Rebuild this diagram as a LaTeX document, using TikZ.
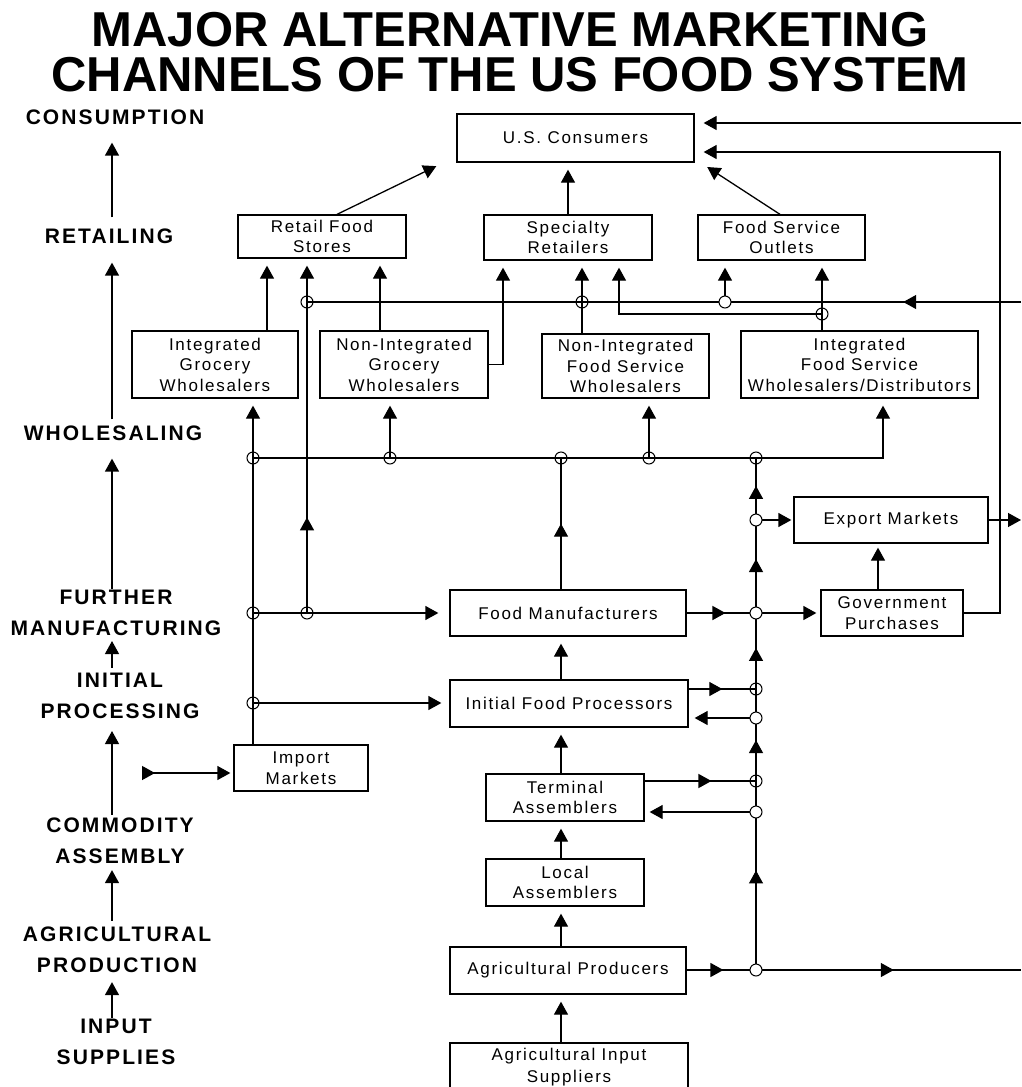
\documentclass[tikz,border=0pt]{standalone}
\usepackage{fontspec}
\setmainfont{Liberation Sans}
\newfontfamily\boxfont[LetterSpace=10]{Liberation Sans}
\usetikzlibrary{positioning,arrows.meta,decorations.markings,calc}

\begin{document}
\begin{tikzpicture}[x=1pt, y=-1pt,
    box/.style={draw, line width=1.3pt, inner sep=0pt, align=center,
                font=\boxfont\fontsize{17}{20.5}\selectfont},
    stage/.style={inner sep=0pt, align=center,
                  font=\boxfont\bfseries\fontsize{21}{31}\selectfont},
    line/.style={line width=1.3pt},
    arr/.style={line, -{Triangle[length=13pt,width=14pt]}, shorten >=7pt},
    midarr/.style={postaction={decorate}, decoration={markings,
                   mark=at position #1 with {\arrow{Triangle[length=13pt,width=14pt]}}}},
    junc/.style={circle, draw, line width=1pt, fill=white, minimum size=12pt, inner sep=0pt},
    cross/.style={circle, draw, line width=1pt, minimum size=12pt, inner sep=0pt},
]
\useasboundingbox (0,0) rectangle (1021,1087);
\clip (0,0) rectangle (1021,1087);

\node[font=\bfseries\fontsize{49}{45}\selectfont, align=center] (title) at (510,52)
    {MAJOR ALTERNATIVE MARKETING\\CHANNELS OF THE US FOOD SYSTEM};

% stages
\coordinate (axis) at (112,0);
\node[stage] (consumption) at (115,117) {CONSUMPTION};
\node[stage] (retailing) at (109,236) {RETAILING};
\node[stage] (wholesaling) at (113,433) {WHOLESALING};
\node[stage] (furthermfg) at (116,613) {FURTHER\\MANUFACTURING};
\node[stage] (initproc) at (120,696) {INITIAL\\PROCESSING};
\node[stage] (assembly) at (120,841) {COMMODITY\\ASSEMBLY};
\node[stage] (agprod) at (117,950) {AGRICULTURAL\\PRODUCTION};
\node[stage] (inputs) at (116,1042) {INPUT\\SUPPLIES};

\draw[arr, shorten >=18pt, shorten <=11pt] (retailing.north -| axis) -- (consumption.south -| axis);
\draw[arr, shorten >=19pt, shorten <=6pt] (wholesaling.north -| axis) -- (retailing.south -| axis);
\draw[arr, shorten >=18pt, shorten <=1pt] (furthermfg.north -| axis) -- (wholesaling.south -| axis);
\draw[arr, shorten >=5pt, shorten <=5pt] (initproc.north -| axis) -- (furthermfg.south -| axis);
\draw[arr, shorten >=12pt, shorten <=3pt] (assembly.north -| axis) -- (initproc.south -| axis);
\draw[arr, shorten >=6pt, shorten <=6pt] (agprod.north -| axis) -- (assembly.south -| axis);
\draw[arr, shorten >=9pt, shorten <=1pt] (inputs.north -| axis) -- (agprod.south -| axis);

% boxes
\node[box, minimum width=237pt, minimum height=48pt] (usc) at (575.5,138) {U.S. Consumers};
\node[box, minimum width=168pt, minimum height=43pt] (retail) at (322,236.5) {Retail Food\\Stores};
\node[box, minimum width=168pt, minimum height=45pt] (spec) at (568,237.5) {Specialty\\Retailers};
\node[box, minimum width=167pt, minimum height=45pt] (fso) at (781.5,237.5) {Food Service\\Outlets};
\node[box, minimum width=166pt, minimum height=67pt] (igw) at (215,364.5) {Integrated\\Grocery\\Wholesalers};
\node[box, minimum width=168pt, minimum height=67pt] (nigw) at (404,364.5) {Non-Integrated\\Grocery\\Wholesalers};
\node[box, minimum width=167pt, minimum height=64pt] (nifsw) at (625.5,366) {Non-Integrated\\Food Service\\Wholesalers};
\node[box, minimum width=237pt, minimum height=67pt] (ifswd) at (859.5,364.5) {Integrated\\Food Service\\Wholesalers/Distributors};
\node[box, minimum width=194pt, minimum height=46pt] (export) at (891,520) {Export Markets};
\node[box, minimum width=236pt, minimum height=46pt] (fm) at (568,613) {Food Manufacturers};
\node[box, minimum width=142pt, minimum height=46pt] (gov) at (892,613) {Government\\Purchases};
\node[box, minimum width=238pt, minimum height=47pt] (ifp) at (569,703.5) {Initial Food Processors};
\node[box, minimum width=134pt, minimum height=46pt] (import) at (301,768) {Import\\Markets};
\node[box, minimum width=158pt, minimum height=47pt] (term) at (565,797.5) {Terminal\\Assemblers};
\node[box, minimum width=158pt, minimum height=47pt] (local) at (565,882.5) {Local\\Assemblers};
\node[box, minimum width=236pt, minimum height=47pt] (agp) at (568,970.5) {Agricultural Producers};
\node[box, minimum width=238pt, minimum height=48pt] (ais) at (569,1067) {Agricultural Input\\[1pt]Suppliers};

% junctions and columns
\coordinate (rtop) at (1021,123);
\coordinate (gret) at (1000,152);
\coordinate (busin) at (1021,302);
\coordinate (b1) at (307,302);
\coordinate (b2) at (582,302);
\coordinate (b3) at (725,302);
\coordinate (b4) at (822,314);
\coordinate (k1) at (267,0);
\coordinate (k2) at (380,0);
\coordinate (k3) at (503,0);
\coordinate (k4) at (619,0);
\coordinate (k5) at (878,0);
\coordinate (m1) at (253,458);
\coordinate (m2) at (390,458);
\coordinate (m3) at (561,458);
\coordinate (m4) at (649,458);
\coordinate (m5) at (756,458);
\coordinate (m6) at (883,458);
\coordinate (l2) at (253,613);
\coordinate (c2) at (307,613);
\coordinate (l1) at (253,703);
\coordinate (r0) at (756,520);
\coordinate (r1) at (756,613);
\coordinate (r2) at (756,689);
\coordinate (r3) at (756,718);
\coordinate (r4) at (756,781);
\coordinate (r5) at (756,812);
\coordinate (r6) at (756,970);
\coordinate (spine) at (561,0);
\coordinate (expout) at (1021,520);
\coordinate (agout) at (1021,970);
\coordinate (impin) at (142,773);

% consumers
\draw[arr, shorten >=8pt] ([xshift=15pt]retail.north) -- ([xshift=-132pt]usc.south);
\draw[arr] (spec.north) -- (spec.north |- usc.south);
\draw[arr, shorten >=8pt] ([xshift=-1.5pt]fso.north) -- ([xshift=125pt]usc.south);
\draw[arr, shorten >=9pt] (rtop) -- (rtop -| usc.east);
\draw[arr, shorten >=9pt] (gov.east) -| (gret) -- (gret -| usc.east);

% retailers
\draw[arr] (igw.north -| k1) -- (retail.south -| k1);
\draw[arr, midarr=0.27] (c2) -- (retail.south -| c2);
\draw[arr] (nigw.north -| k2) -- (retail.south -| k2);
\draw[arr] (nigw.east) -| (spec.south -| k3);
\draw[arr] (nifsw.north -| b2) -- (spec.south -| b2);
\draw[arr] (b3) -- (fso.south -| b3);
\draw[arr] (ifswd.north -| b4) -- (fso.south -| b4);
\draw[arr] (b4) -| (spec.south -| k4);
\draw[line, midarr=0.165] (busin) -- (b1);

% wholesalers
\draw[arr] (m1) -- (m6) -- (ifswd.south -| m6);
\draw[arr] (m2) -- (nigw.south -| m2);
\draw[arr] (m4) -- (nifsw.south -| m4);
\draw[arr] (import.north -| m1) -- (igw.south -| m1);
\draw[line, midarr=0.5] (fm.north -| m3) -- (m3);
\draw[arr, shorten >=11pt] (l2) -- (l2 -| fm.west);
\draw[arr, shorten >=8pt] (l1) -- (l1 -| ifp.west);
\draw[line, {Triangle[reversed,length=13pt,width=14pt]}-{Triangle[length=13pt,width=14pt]},
      shorten >=3pt] (impin) -- (impin -| import.west);

% right spine
\draw[line, midarr=0.63] (r6) -- (r5);
\draw[line] (r5) -- (r4);
\draw[line, midarr=0.65] (r4) -- (r3);
\draw[line] (r3) -- (r2);
\draw[line, midarr=0.54] (r2) -- (r1);
\draw[line, midarr=0.58] (r1) -- (r0);
\draw[line, midarr=0.55] (r0) -- (m5);
\draw[line, midarr=0.56] (r1 -| fm.east) -- (r1);
\draw[arr, shorten >=4pt] (r1) -- (r1 -| gov.west);
\draw[arr, shorten >=2pt] (r0) -- (r0 -| export.west);
\draw[arr, shorten >=4pt] (gov.north -| k5) -- (export.south -| k5);
\draw[arr, shorten >=0pt] (expout -| export.east) -- (expout);
\draw[line, midarr=0.5] (r2 -| ifp.east) -- (r2);
\draw[arr, shorten >=6pt] (r3) -- (r3 -| ifp.east);
\draw[line, midarr=0.6] (r4 -| term.east) -- (r4);
\draw[arr, shorten >=5pt] (r5) -- (r5 -| term.east);
\draw[line, midarr=0.53] (r6 -| agp.east) -- (r6);
\draw[line, midarr=0.52] (r6) -- (agout);

% main chain
\draw[arr] (ais.north -| spine) -- (agp.south -| spine);
\draw[arr] (agp.north -| spine) -- (local.south -| spine);
\draw[arr] (local.north -| spine) -- (term.south -| spine);
\draw[arr] (term.north -| spine) -- (ifp.south -| spine);
\draw[arr] (ifp.north -| spine) -- (fm.south -| spine);

\foreach \j in {b1,b2,b4,m1,m2,m3,m4,m5,l1,l2,c2,r2,r4}
    \node[cross] at (\j) {};
\foreach \j in {b3,r0,r1,r3,r5,r6}
    \node[junc] at (\j) {};
\end{tikzpicture}
\end{document}
